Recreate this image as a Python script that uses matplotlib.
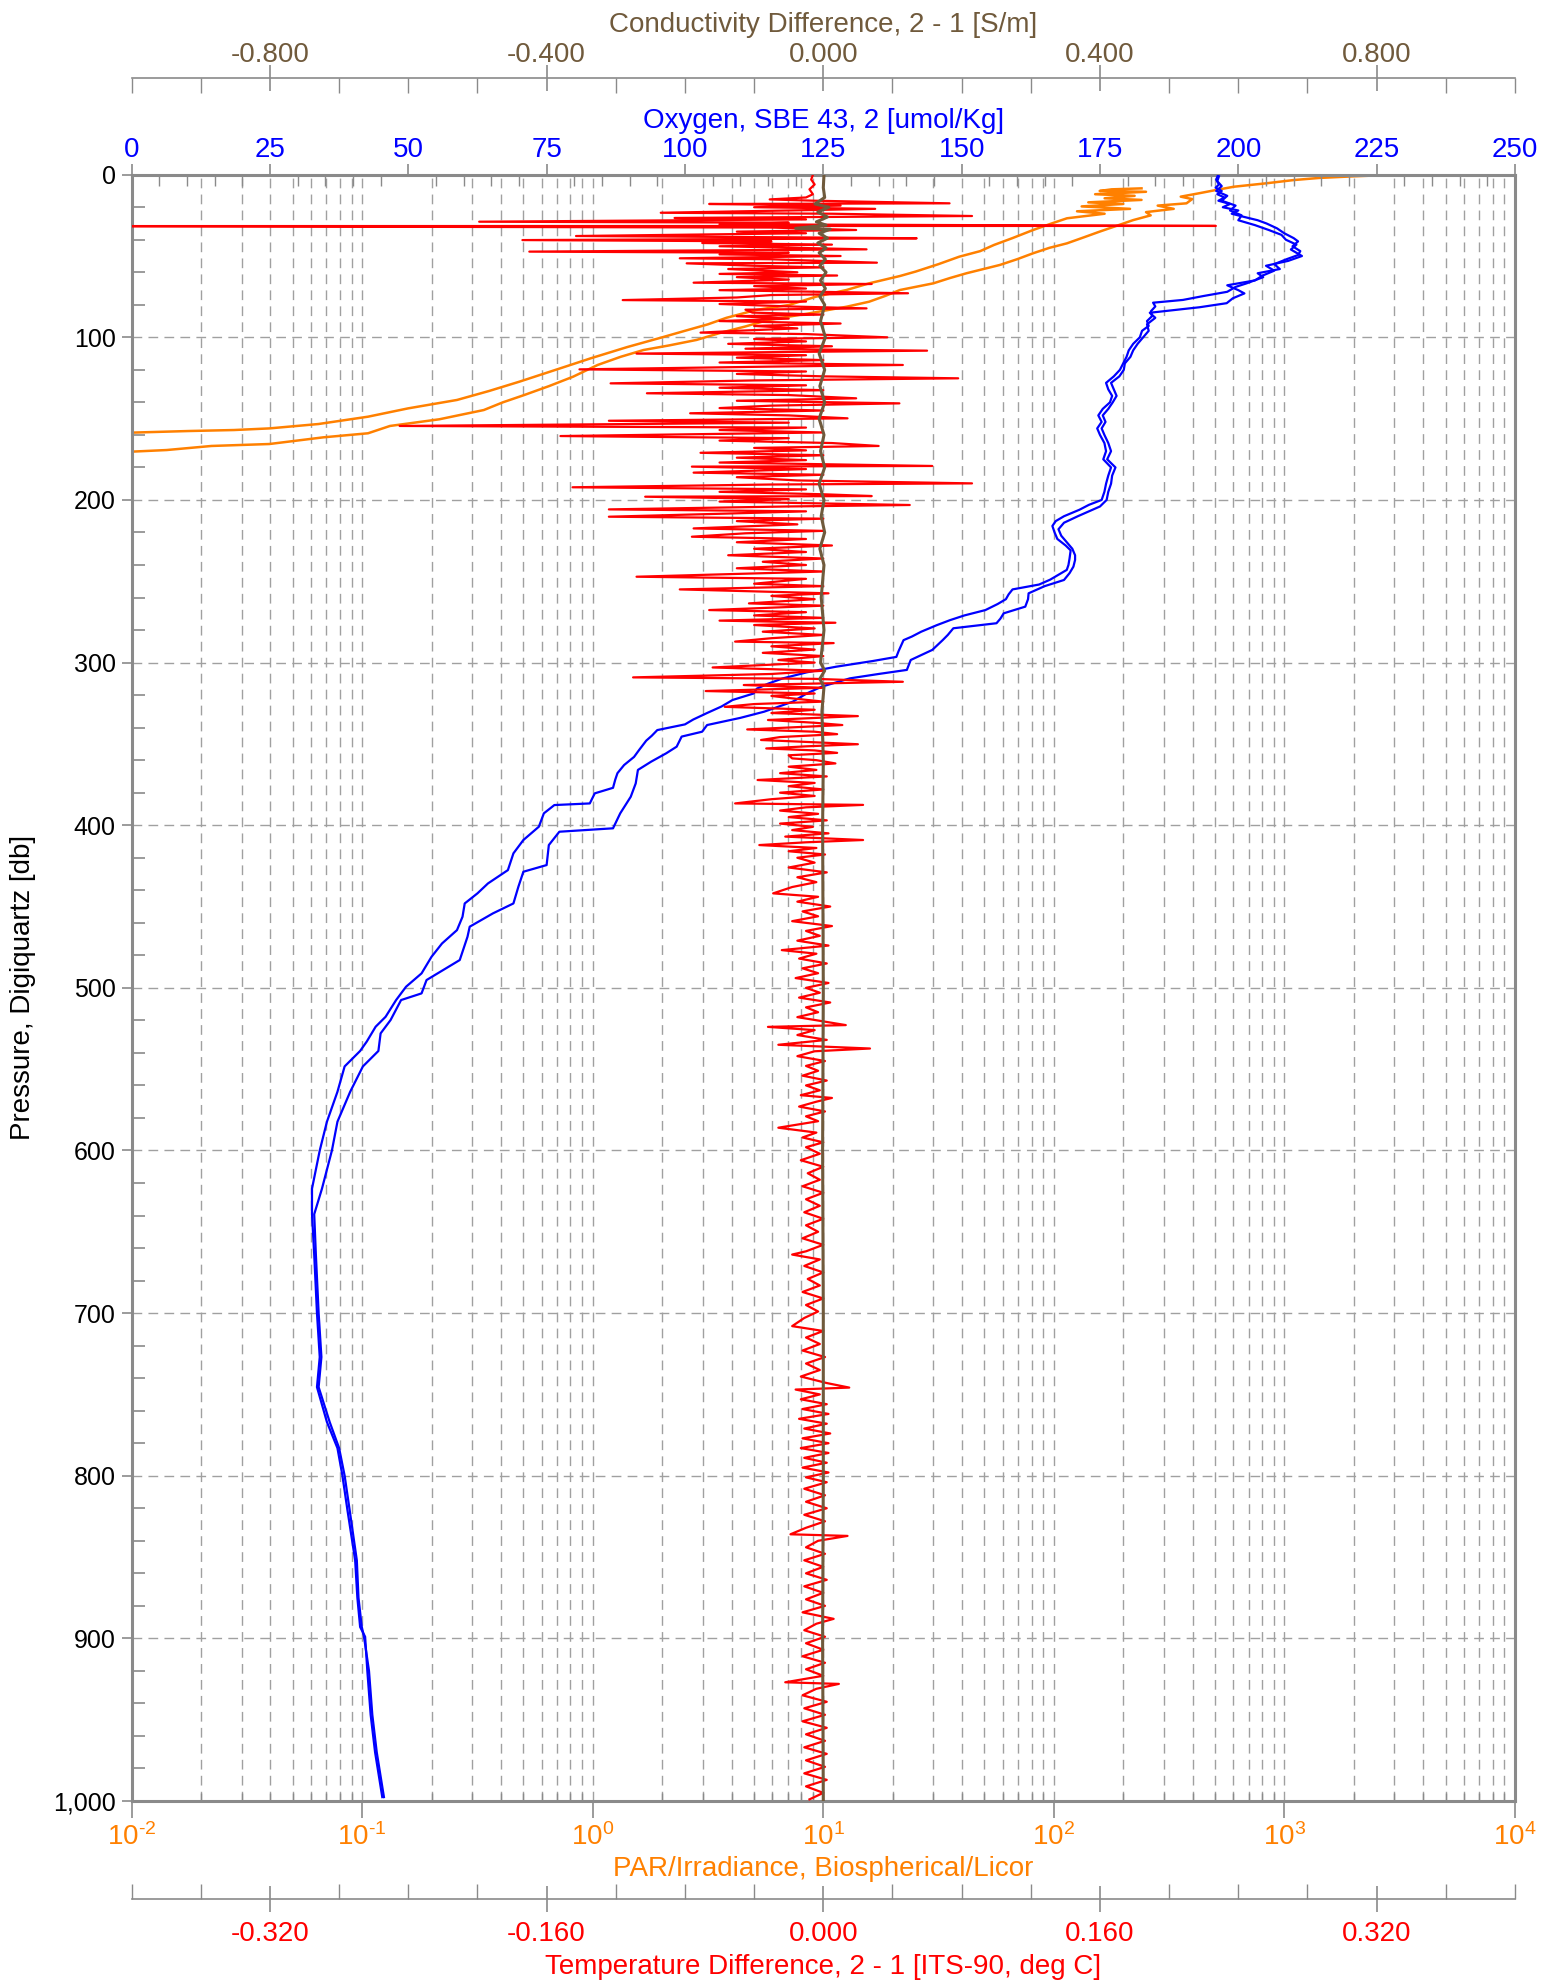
import numpy as np
import matplotlib
matplotlib.use('Agg')
import matplotlib.pyplot as plt
from matplotlib.ticker import FixedLocator, FixedFormatter, NullFormatter

plt.rcParams['font.family'] = ['Liberation Sans', 'DejaVu Sans']
plt.rcParams['mathtext.fontset'] = 'custom'
plt.rcParams['mathtext.rm'] = 'Liberation Sans'
plt.rcParams['axes.unicode_minus'] = False

# Colours
BLUE = '#0000ff'
RED = '#ff0000'
ORANGE = '#ff8000'
BROWN = '#705a3c'
GRAY = '#8a8a8a'
GRID = '#a0a0a0'

# ---------------------------------------------------------------- data
# Oxygen, SBE 43, 2 [umol/Kg] -- two traces (down / up)
oxy_a_p = [0.5, 3, 6, 8, 10, 12, 14, 16, 18, 20, 22, 24, 26, 28, 30, 33, 36, 39, 41, 44,
           47, 49.4, 52, 55, 58, 60.6, 63, 66.8, 69, 72, 74.6, 77, 78.7, 81, 84, 87, 90, 93,
           96, 100, 104, 108, 112, 116, 120, 124, 128, 132, 136, 140, 144, 148, 152, 156,
           160, 165, 170, 175, 180, 185, 190, 195, 200, 203, 206, 210, 213, 216, 220, 224,
           228, 231, 236, 240, 243, 246, 249, 252, 255, 258, 261, 264, 267.7, 271, 273.9,
           277, 281, 284, 286.2, 290, 293, 296.5, 299, 302.6, 306, 309.8, 313, 316, 319, 323,
           327, 331, 335, 338, 341.5, 345, 348, 353.8, 358, 363, 368, 372, 377, 380.4, 386.6,
           387.6, 392.7, 400.9, 409.1, 417.3, 427.6, 435.8, 441.9, 448.1, 456.3, 464.5,
           472.7, 480.9, 491.1, 499.3, 507.5, 517.8, 523.9, 533, 538.8, 548.3, 563.9, 582.3,
           600, 623.5, 639.2, 664, 700, 727, 745.5, 767, 783, 800, 821, 852, 875, 893, 899,
           920, 947, 970, 997.6]
oxy_a = [196.3, 196.0, 196.5, 195.9, 197.0, 196.2, 197.5, 196.4, 198.5, 197.2, 200.0, 198.8,
         201.1, 203.5, 205.1, 207.0, 208.3, 210.0, 210.8, 209.8, 211.2, 210.8, 208.7, 206.5,
         207.5, 203.5, 204.5, 201.5, 199.5, 198.0, 193.7, 190.0, 184.6, 185.0, 184.2, 184.4,
         183.5, 183.8, 182.6, 182.2, 181.0, 180.2, 179.8, 179.2, 178.6, 177.5, 176.1, 176.5,
         177.2, 176.8, 175.5, 174.7, 175.3, 174.5, 175.0, 175.8, 176.1, 175.6, 177.0, 176.5,
         176.1, 175.8, 175.3, 173.0, 171.3, 168.5, 167.0, 166.4, 166.8, 167.3, 168.8, 169.7,
         169.5, 169.3, 169.0, 167.5, 166.0, 164.0, 159.2, 158.5, 158.0, 156.5, 154.3, 150.5,
         147.9, 145.5, 142.7, 141.0, 139.5, 139.0, 138.6, 138.2, 134.0, 127.2, 122.0, 117.6,
         115.0, 113.0, 112.4, 108.6, 106.6, 104.0, 101.5, 100.0, 95.0, 94.0, 93.0, 91.7, 90.8,
         89.0, 87.8, 87.4, 87.0, 83.7, 82.8, 76.4, 74.5, 73.6, 70.8, 69.0, 68.0, 64.4, 62.5,
         60.2, 59.8, 58.8, 56.1, 54.2, 52.4, 49.6, 47.8, 45.9, 44.1, 42.5, 41.3, 38.5, 37.2,
         35.3, 34.0, 32.6, 32.6, 33.0, 33.5, 34.0, 33.5, 35.3, 37.2, 38.1, 39.0, 40.4, 40.8,
         41.3, 42.2, 42.6, 43.2, 44.0, 45.3]

oxy_b_p = [1, 4, 7, 10, 13, 16, 19, 22, 25, 28, 31, 34, 37, 40, 43, 46, 50, 53, 56, 59, 62,
           65, 68, 71, 73, 76, 79, 81.5, 84.9, 88, 92, 96, 100, 104, 108, 112, 116, 120, 124,
           128, 132, 136, 140, 144, 148, 152, 156, 160, 165, 170, 175, 180, 185, 190, 195,
           200, 204, 207, 210, 214, 218, 222, 226, 230, 234, 236.9, 241, 245, 249.2, 253,
           257.4, 261, 265.6, 269.7, 273, 275.8, 278.9, 283, 286.1, 292.2, 298.4, 304.5, 307,
           309.7, 314.8, 319, 324, 327, 330.2, 334, 338.4, 342.5, 345.5, 351.7, 355.8, 360.9,
           366, 374.3, 382.5, 392.7, 401.9, 404, 412.2, 424.5, 428.6, 437.8, 448.1, 454.2,
           462.4, 468.6, 482.9, 495.2, 503.4, 507.5, 519.8, 528, 538.8, 548.3, 563.9, 582.3,
           600, 623.5, 639.2, 664, 700, 727, 745.5, 767, 783, 800, 821, 852, 875, 893, 899,
           920, 947, 970, 997.6]
oxy_b = [196.5, 196.2, 197.0, 196.0, 198.0, 197.0, 199.5, 198.5, 200.6, 200.0, 203.0, 205.5,
         207.8, 208.6, 210.5, 209.5, 211.5, 209.0, 205.0, 206.5, 204.4, 203.0, 198.0, 200.0,
         201.1, 199.0, 197.9, 193.0, 184.0, 185.0, 183.5, 183.8, 182.8, 181.8, 181.0, 180.5,
         179.5, 179.3, 178.5, 177.0, 177.5, 178.0, 177.3, 176.5, 175.5, 176.0, 175.3, 175.8,
         176.5, 177.0, 176.3, 177.8, 177.2, 177.0, 176.5, 176.2, 175.0, 173.0, 171.0, 168.5,
         167.5, 168.0, 169.0, 170.0, 170.5, 170.5, 170.2, 169.5, 168.5, 165.0, 162.1, 162.0,
         161.5, 157.6, 157.0, 156.3, 148.5, 147.5, 146.6, 144.7, 140.8, 140.1, 135.0, 129.8,
         124.7, 122.0, 119.5, 117.0, 114.3, 110.0, 104.0, 103.1, 99.4, 98.5, 96.6, 93.9, 91.5,
         91.1, 90.2, 88.3, 87.0, 77.3, 75.4, 75.0, 70.8, 69.9, 69.0, 65.3, 61.1, 60.7, 59.3,
         53.3, 52.4, 48.7, 46.8, 45.0, 44.6, 41.8, 39.5, 37.2, 36.2, 34.4, 33.0, 33.3, 33.8,
         34.3, 33.8, 35.8, 37.5, 38.5, 39.4, 40.7, 41.0, 41.6, 42.0, 42.9, 43.5, 44.3, 45.6]

# PAR/Irradiance, Biospherical/Licor -- two traces
par_a_p = [8.4, 9.0, 10.0, 10.5, 12, 13, 14.5, 15.5, 17, 18, 19.5, 21, 22.5, 24, 26.8, 30, 34,
           39, 43.2, 47, 50.4, 55, 59.6, 62.3, 66.8, 70.9, 75, 80.1, 83.2, 88, 92, 96, 100,
           106, 112.9, 120, 127.3, 133, 138.5, 143.7, 148.8, 153.3, 156, 157, 157.6, 158.6,
           159.2]
par_a = [240, 178, 158, 251, 151, 224, 166, 240, 141, 200, 132, 214, 126, 166, 114, 97.7,
         81.3, 66.1, 55.0, 47.9, 38.9, 31.6, 25.1, 21.5, 15.8, 12.6, 9.3, 7.1, 5.1, 3.8, 3.16,
         2.51, 2.0, 1.41, 0.98, 0.69, 0.48, 0.355, 0.258, 0.158, 0.106, 0.0647, 0.0396,
         0.0278, 0.0178, 0.0100, 0.0040]

par_b_p = [0.2, 1.0, 2.0, 3.3, 5.3, 7.4, 9.5, 11.4, 13.5, 15, 17.6, 19, 21, 23, 25, 27.9, 31,
           35, 38.5, 42.2, 45, 48.3, 52, 55.5, 60.6, 63.5, 66.8, 70.9, 74.5, 78.1, 81.2, 85,
           89.4, 93.4, 97, 101.6, 105, 107.8, 112, 117, 124.2, 130, 135.5, 140, 144.7, 150.4,
           154.5, 159, 161.5, 165.6, 166.8, 169.3, 170.3, 171.0]
par_b = [2800, 1995, 1413, 1096, 832, 603, 501, 427, 355, 398, 376, 282, 331, 251, 263, 221,
         191, 158, 135, 114, 95.5, 81.3, 69.2, 58.3, 41.8, 35.5, 30.0, 21.5, 18.6, 15.8, 12.6,
         8.9, 5.75, 4.57, 3.63, 2.82, 2.14, 1.66, 1.32, 1.05, 0.822, 0.646, 0.504, 0.407,
         0.337, 0.216, 0.132, 0.106, 0.0678, 0.0396, 0.0222, 0.0142, 0.0100, 0.0040]

# Temperature Difference, 2 - 1 [ITS-90, deg C]
temp_p = [0, 3, 6, 9, 12, 14, 15.2, 16, 17.6, 18, 19, 20, 21, 22, 23.4, 24, 25.4, 26.6, 27.5,
          28.9, 29.5, 30.5, 31.5, 31.6, 32.5, 34, 35, 36, 37.7, 38.5, 39.1, 40.2, 41, 42, 43,
          44, 45.9, 47.3, 48, 49, 50, 51.4, 52, 54.1, 54.5, 56, 57, 58, 60, 61, 62, 63, 64.5,
          66.4, 67.2, 68.5, 70, 71, 72.9, 74, 75.5, 77.1, 78, 79.5, 81, 82.2, 83, 84.8, 86, 87,
          88.5, 90, 91.5, 93, 94.5, 96, 97.1, 98, 100, 101, 102.5, 104, 105.5, 107, 108.2, 109,
          110, 111, 112.5, 114, 115.5, 117, 118, 119.7, 121, 122.5, 124, 125.2, 126.5, 128.3,
          129.5, 131, 132.5, 134.4, 135.5, 137.5, 139, 140.6, 142, 143.5, 145, 146.7, 148,
          149.8, 151.3, 152.5, 154.5, 155.5, 157, 158.5, 160.7, 162, 163.5, 165, 166.8, 168,
          169.5, 171, 172.5, 174, 175.5, 177, 179.1, 179.5, 181, 183.2, 184.5, 186, 188, 189.8,
          190.5, 192.2, 193.5, 195, 196.5, 197.6, 198, 199.5, 201, 203.1, 204, 205.8, 207,
          208.5, 210.3, 211.5, 213, 215, 217.5, 219, 220.5, 222.6, 224, 226, 228, 230, 232,
          234, 236, 238, 240, 242, 244, 247.2, 248.5, 251.5, 253, 255, 257.4, 259, 261, 263.6,
          265, 267.7, 269, 271, 272.5, 274.2, 275.5, 276.9, 279, 281, 283, 285, 287.1, 288,
          290, 292, 294, 296, 298.4, 300, 303, 305, 307, 309.1, 310, 311.8, 313.8, 315.5,
          317.5, 319, 320.5, 322, 324, 325.5, 327.2, 329, 331, 332.9, 335.3, 337, 338.4, 341.1,
          342.5, 344, 345.8, 347.6, 349, 350.2, 351.5, 352.8, 354, 355.5, 357, 358.9, 360,
          362, 364, 366, 368, 370, 372.2, 374, 376, 378, 380, 382, 384, 386.6, 387.5, 389, 391,
          393, 395, 397, 399, 401, 403, 405, 407, 409.1, 410.5, 412.2, 414, 416, 418, 420, 423,
          426, 429, 432, 435, 438, 441.9, 444, 447, 450, 453, 456, 459, 462, 465, 468, 471,
          474, 476.8, 479, 482, 485, 488, 491, 494, 497, 500, 503, 506, 509, 512, 515, 518,
          521, 522.9, 524, 526, 529, 532, 535, 537.3, 539, 542, 545, 548, 551, 554, 557, 560,
          563, 566, 567.7, 570, 573, 576, 579, 582, 586, 589, 592, 595, 598, 602, 606, 610,
          614, 618, 622, 626, 630, 634, 638, 642, 646, 650, 654, 658, 662, 664, 667, 671, 675,
          679, 683, 687, 691, 695, 699, 703, 708, 711, 715, 719, 723, 727, 731, 735, 739, 743,
          745.8, 747, 750, 753, 756, 759, 762, 765, 768, 771, 774, 777, 780, 783, 786, 789,
          792, 795, 798, 801, 804, 808, 812, 816, 820, 824, 828, 832, 836, 837, 840, 844, 848,
          852, 856, 860, 864, 868, 872, 876, 880, 884, 888, 891, 895, 899, 903, 907, 911, 915,
          919, 923, 927, 928, 931, 935, 939, 943, 947, 951, 955, 959, 963, 967, 971, 975, 979,
          983, 987, 991, 995, 999]
temp_d = [-0.006, -0.007, -0.005, -0.008, -0.006, -0.010, -0.031, -0.005, 0.073, -0.066,
          0.010, -0.040, 0.030, -0.020, -0.094, 0.005, 0.086, -0.086, -0.010, -0.199, -0.020,
          -0.060, 0.227, -0.450, -0.030, 0.019, -0.050, -0.010, -0.143, -0.020, 0.054,
          -0.174, -0.030, -0.070, 0.005, -0.060, 0.025, -0.170, -0.020, -0.060, 0.010, -0.083,
          -0.030, 0.031, -0.079, -0.040, 0.000, -0.055, -0.015, -0.060, 0.008, -0.050, -0.020,
          -0.075, 0.028, -0.040, -0.010, -0.060, 0.049, -0.030, -0.050, -0.116, -0.010,
          -0.060, -0.020, 0.025, -0.045, -0.041, 0.000, -0.050, -0.020, -0.060, 0.010, -0.040,
          -0.015, -0.050, -0.071, -0.010, 0.037, -0.040, -0.010, -0.055, 0.005, -0.045, 0.060,
          -0.020, -0.108, -0.010, -0.050, 0.000, -0.060, 0.046, -0.030, -0.141, -0.010,
          -0.050, 0.000, 0.078, -0.040, -0.123, -0.010, -0.060, 0.000, -0.102, -0.020, 0.019,
          -0.050, 0.044, -0.030, -0.060, 0.000, -0.077, -0.020, 0.014, -0.124, -0.020, -0.245,
          -0.010, -0.060, 0.000, -0.152, -0.020, -0.060, 0.005, 0.032, -0.040, -0.010, -0.071,
          0.000, -0.050, -0.010, -0.060, 0.063, -0.076, -0.010, -0.075, 0.000, -0.050, -0.015,
          0.086, -0.030, -0.145, -0.010, -0.060, 0.000, 0.028, -0.103, -0.020, -0.060, 0.050,
          -0.020, -0.124, -0.010, -0.060, -0.124, 0.000, -0.050, -0.015, -0.075, 0.000,
          -0.045, -0.076, -0.010, -0.050, 0.005, -0.040, -0.010, -0.055, 0.000, -0.035,
          -0.010, -0.050, 0.000, -0.108, -0.010, -0.040, 0.000, -0.083, 0.003, -0.030, -0.005,
          -0.043, 0.000, -0.066, -0.010, -0.040, 0.000, -0.060, 0.007, -0.040, -0.005, -0.035,
          0.000, -0.030, -0.051, 0.006, -0.030, -0.005, -0.035, 0.000, -0.026, -0.005, -0.064,
          0.000, -0.030, -0.110, -0.005, 0.046, -0.046, 0.000, -0.068, -0.005, -0.030, -0.018,
          0.000, -0.040, -0.057, -0.005, -0.030, 0.020, -0.032, -0.005, 0.011, -0.044, -0.005,
          0.008, -0.025, -0.036, -0.005, 0.020, -0.010, -0.033, -0.005, 0.008, -0.020, -0.018,
          -0.004, 0.007, -0.020, -0.004, -0.025, 0.002, -0.038, -0.005, -0.020, 0.000, -0.025,
          -0.005, -0.030, -0.051, 0.023, -0.010, -0.025, -0.003, -0.020, 0.002, -0.025,
          -0.006, -0.018, 0.003, -0.022, 0.023, -0.010, -0.037, -0.004, -0.020, 0.001, -0.015,
          -0.005, -0.020, 0.002, -0.015, -0.004, -0.018, -0.029, -0.003, -0.015, 0.004, -0.012,
          -0.003, -0.018, 0.005, -0.010, -0.002, -0.015, 0.003, -0.024, -0.004, -0.014, 0.002,
          -0.012, -0.003, -0.016, 0.003, -0.010, -0.002, -0.014, 0.004, -0.010, -0.003, -0.015,
          0.002, 0.013, -0.032, -0.005, -0.015, 0.002, -0.026, 0.027, -0.005, -0.015, 0.001,
          -0.010, -0.003, -0.012, 0.002, -0.010, -0.002, -0.013, 0.005, -0.004, -0.014, 0.001,
          -0.010, -0.003, -0.026, -0.004, -0.012, 0.000, -0.010, -0.002, -0.013, 0.000, -0.009,
          -0.002, -0.012, 0.000, -0.010, -0.002, -0.011, 0.000, -0.010, -0.003, -0.012, 0.000,
          -0.010, -0.018, -0.002, -0.011, 0.000, -0.009, -0.002, -0.012, 0.000, -0.010, -0.003,
          -0.011, -0.018, 0.000, -0.010, -0.002, -0.012, 0.001, -0.010, -0.002, -0.013, 0.002,
          0.015, -0.016, -0.002, -0.013, 0.002, -0.012, 0.003, -0.014, 0.002, -0.011, 0.004,
          -0.012, 0.003, -0.013, 0.003, -0.011, 0.002, -0.012, 0.003, -0.010, 0.002, -0.011,
          0.001, -0.010, 0.002, -0.011, 0.001, -0.010, -0.019, 0.014, -0.003, -0.010, 0.001,
          -0.011, 0.000, -0.010, 0.002, -0.011, 0.000, -0.010, 0.001, -0.012, 0.006, -0.004,
          -0.011, 0.001, -0.010, 0.000, -0.012, 0.001, -0.010, 0.000, -0.022, 0.009, -0.004,
          -0.012, 0.002, -0.011, 0.001, -0.012, 0.002, -0.010, 0.001, -0.011, 0.002, -0.010,
          0.001, -0.011, 0.002, -0.010, 0.000, -0.008]

# Conductivity Difference, 2 - 1 [S/m]
cond_p = [0, 8, 14, 18, 20, 23, 26, 29, 31, 33, 33.5, 36, 39, 42, 45, 48, 52, 56, 60, 65, 70,
          75, 80, 90, 100, 110, 120, 130, 140, 150, 160, 170, 180, 190, 200, 210, 220, 230,
          240, 260, 280, 300, 305, 310, 315, 330, 360, 400, 500, 600, 700, 800, 900, 1000]
cond_d = [0.001, 0.000, 0.002, -0.012, 0.008, -0.008, 0.006, -0.010, 0.004, -0.040, 0.010,
          -0.006, 0.006, -0.008, 0.004, -0.006, 0.003, -0.005, 0.004, -0.004, 0.003, -0.005,
          0.002, -0.004, 0.003, -0.006, 0.002, -0.005, 0.002, -0.006, 0.001, -0.004, 0.002,
          -0.006, 0.001, -0.003, 0.002, -0.005, 0.001, -0.003, 0.001, -0.004, 0.002, -0.005,
          0.001, -0.002, 0.000, -0.001, 0.000, -0.001, 0.000, 0.000, -0.001, 0.000]

# axis ticks
p_ticks = [0, 100, 200, 300, 400, 500, 600, 700, 800, 900, 1000]
p_labels = ['0', '100', '200', '300', '400', '500', '600', '700', '800', '900', '1,000']
par_exp = [-2, -1, 0, 1, 2, 3, 4]
oxy_ticks = [0, 25, 50, 75, 100, 125, 150, 175, 200, 225, 250]
cond_ticks = [-0.8, -0.4, 0.0, 0.4, 0.8]
temp_ticks = [-0.32, -0.16, 0.0, 0.16, 0.32]

# ---------------------------------------------------------------- figure
W, H = 1567, 1984
L, R, T, B = 131.6, 1515.0, 174.7, 1801.0
fig = plt.figure(figsize=(W / 100, H / 100), dpi=100)
ax = fig.add_axes([L / W, 1 - B / H, (R - L) / W, (B - T) / H])


def px_y(y):
    # pixel row -> axes fraction
    return (B - y) / (B - T)


def pow10(e):
    s = r'\text{-}%d' % -e if e < 0 else '%d' % e
    return r'$\mathregular{10^{%s}}$' % s


# PAR (host axis, log, bottom)
ax.set_xscale('log')
ax.set_xlim(1e-2, 1e4)
ax.set_ylim(1000, 0)
par_major = [10.0 ** e for e in par_exp]
par_minor = [m * 10.0 ** e for e in par_exp[:-1] for m in range(2, 10)]
ax.xaxis.set_major_locator(FixedLocator(par_major))
ax.xaxis.set_major_formatter(FixedFormatter([pow10(e) for e in par_exp]))
ax.xaxis.set_minor_locator(FixedLocator(par_minor))
ax.xaxis.set_minor_formatter(NullFormatter())
ax.yaxis.set_major_locator(FixedLocator(p_ticks))
ax.yaxis.set_major_formatter(FixedFormatter(p_labels))
ax.yaxis.set_minor_locator(FixedLocator(np.arange(0, 1001, 20)))

dash = (0, (7, 4.5))
ax.grid(True, axis='x', which='both', color=GRID, ls=dash, lw=1.0)
ax.grid(True, axis='y', which='major', color=GRID, ls=dash, lw=1.0)

ax.tick_params(axis='y', which='major', direction='out', length=7, width=1.2, color=GRAY,
               labelsize=18, pad=4.5)
ax.tick_params(axis='y', which='minor', direction='in', length=9, width=1.2, color=GRAY)
ax.tick_params(axis='x', which='major', direction='out', length=12, width=1.2, color=GRAY,
               labelsize=20, labelcolor=ORANGE, pad=4)
ax.tick_params(axis='x', which='minor', direction='in', length=6, width=1.0, color=GRAY)
for s in ax.spines.values():
    s.set_color(GRAY)
    s.set_linewidth(2.2)

ax.plot(par_a, par_a_p, color=ORANGE, lw=1.8)
ax.plot(par_b, par_b_p, color=ORANGE, lw=1.8)

ax.set_xlabel('PAR/Irradiance, Biospherical/Licor', color=ORANGE, fontsize=20)
ax.xaxis.set_label_coords(0.5, px_y(1869))
ax.xaxis.label.set_va('center')
ax.set_ylabel('Pressure, Digiquartz [db]', fontsize=20)
ax.yaxis.set_label_coords((23 - L) / (R - L), 0.5)
ax.yaxis.label.set_va('center')

# Oxygen (top, on plot frame)
ax_o = ax.twiny()
ax_o.set_xlim(0, 250)
ax_o.xaxis.set_major_locator(FixedLocator(oxy_ticks))
ax_o.xaxis.set_major_formatter(FixedFormatter([str(v) for v in oxy_ticks]))
ax_o.xaxis.set_minor_locator(FixedLocator(np.arange(0, 251, 5)))
ax_o.tick_params(axis='x', which='major', direction='out', length=8, width=1.2, color=GRAY,
                 labelsize=20, labelcolor=BLUE, pad=0.5)
ax_o.tick_params(axis='x', which='minor', direction='in', length=8, width=1.0, color=GRAY)
for s in ax_o.spines.values():
    s.set_visible(False)
ax_o.plot(oxy_a, oxy_a_p, color=BLUE, lw=1.6)
ax_o.plot(oxy_b, oxy_b_p, color=BLUE, lw=1.6)
ax_o.set_xlabel('Oxygen, SBE 43, 2 [umol/Kg]', color=BLUE, fontsize=20)
ax_o.xaxis.set_label_coords(0.5, px_y(121))
ax_o.xaxis.label.set_va('center')

# Temperature difference (detached axis below)
ax_t = ax.twiny()
ax_t.set_xlim(-0.4, 0.4)
ax_t.xaxis.set_ticks_position('bottom')
ax_t.xaxis.set_label_position('bottom')
for name, s in ax_t.spines.items():
    s.set_visible(name == 'bottom')
ax_t.spines['bottom'].set_position(('outward', (1899 - B) * 0.72))
ax_t.spines['bottom'].set_color(GRAY)
ax_t.spines['bottom'].set_linewidth(1.2)
ax_t.xaxis.set_major_locator(FixedLocator(temp_ticks))
ax_t.xaxis.set_major_formatter(FixedFormatter(['%.3f' % v for v in temp_ticks]))
ax_t.xaxis.set_minor_locator(FixedLocator(np.linspace(-0.4, 0.4, 21)))
ax_t.tick_params(axis='x', which='major', direction='inout', length=19, width=1.2, color=GRAY,
                 labelsize=20, labelcolor=RED, pad=6.5)
ax_t.tick_params(axis='x', which='minor', direction='in', length=11, width=1.0, color=GRAY)
ax_t.plot(temp_d, temp_p, color=RED, lw=1.6)
ax_t.set_xlabel('Temperature Difference, 2 - 1 [ITS-90, deg C]', color=RED, fontsize=20)
ax_t.xaxis.set_label_coords(0.5, px_y(1966.5))
ax_t.xaxis.label.set_va('center')

# Conductivity difference (detached axis above)
ax_c = ax.twiny()
ax_c.set_xlim(-1.0, 1.0)
for name, s in ax_c.spines.items():
    s.set_visible(name == 'top')
ax_c.spines['top'].set_position(('outward', (T - 78.5) * 0.72))
ax_c.spines['top'].set_color(GRAY)
ax_c.spines['top'].set_linewidth(1.2)
ax_c.xaxis.set_major_locator(FixedLocator(cond_ticks))
ax_c.xaxis.set_major_formatter(FixedFormatter(['%.3f' % v for v in cond_ticks]))
ax_c.xaxis.set_minor_locator(FixedLocator(np.linspace(-1.0, 1.0, 21)))
ax_c.tick_params(axis='x', which='major', direction='inout', length=19, width=1.2, color=GRAY,
                 labelsize=20, labelcolor=BROWN, pad=-2)
ax_c.tick_params(axis='x', which='minor', direction='in', length=11, width=1.0, color=GRAY)
ax_c.plot(cond_d, cond_p, color=BROWN, lw=2.2)
ax_c.set_xlabel('Conductivity Difference, 2 - 1 [S/m]', color=BROWN, fontsize=20)
ax_c.xaxis.set_label_coords(0.5, px_y(25))
ax_c.xaxis.label.set_va('center')

fig.savefig('out.png', dpi=100)
